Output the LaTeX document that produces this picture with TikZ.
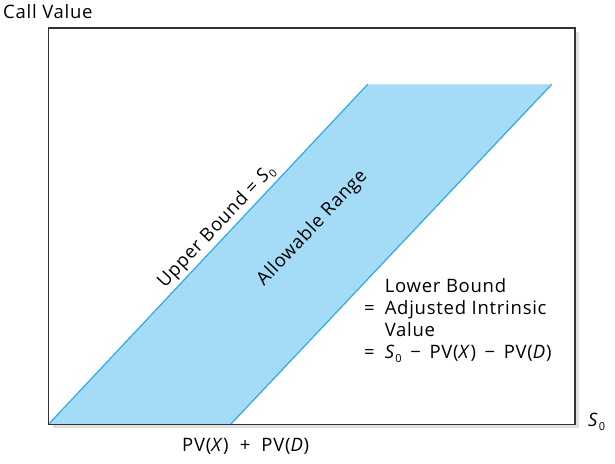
\documentclass[tikz,border=0pt]{standalone}
\usepackage{fontspec}
\setmainfont{Open Sans}[LetterSpace=4.0]
\usetikzlibrary{shadows}
\definecolor{rangefill}{RGB}{164,219,246}
\definecolor{boundline}{RGB}{48,170,230}
\newcommand{\Sz}{\textit{S}\kern0.3pt\raisebox{-0.35ex}{\fontsize{11}{11}\selectfont 0}}

\begin{document}
\begin{tikzpicture}[x=1pt,y=1pt]
\tikzstyle{every node}+=[inner sep=0pt, font=\fontsize{18.5}{22}\selectfont]
\useasboundingbox (0,0) rectangle (615,-463);
% frame with its shadow
\fill [white, drop shadow={shadow xshift=4pt, shadow yshift=-4pt, opacity=0.25}] (48.5,-28) rectangle (575,-424.3);
% allowable range
\coordinate (a) at (48.5,-424.3);
\coordinate (b) at (230.7,-424.3);
\coordinate (c) at (551.7,-84.3);
\coordinate (d) at (367.7,-84.3);
\fill [rangefill] (a) -- (b) -- (c) -- (d) -- cycle;
\draw [boundline, line width=1.2pt] (a) -- (d);
\draw [boundline, line width=1.2pt] (b) -- (c);
\draw [black!80, line width=1.3pt] (48.5,-28) rectangle (575,-424.3);
% labels
\node (callvalue) [anchor=base west] at (3,-18.3) {Call Value};
\node (szero) [anchor=base west] at (588,-426.7) {\Sz};
\node (pvsum) [anchor=base west] at (182,-451) {PV(\textit{X})\ \ +\ \ PV(\textit{D})};
\node (upper) [rotate=46.7] at (216.7,-226.7) {Upper Bound\ =\ \Sz};
\node (range) [rotate=46.7] at (312.5,-228.3) {Allowable Range};
\node (lower) [anchor=base west] at (364,-292.7) {\begin{tabular}[t]{@{}l@{\hspace{10pt}}l@{}}
 & Lower Bound\\
= & Adjusted Intrinsic\\
 & Value\\
= & \Sz\ \,−\ \,PV(\textit{X})\ \,−\ \,PV(\textit{D})
\end{tabular}};
\end{tikzpicture}
\end{document}
